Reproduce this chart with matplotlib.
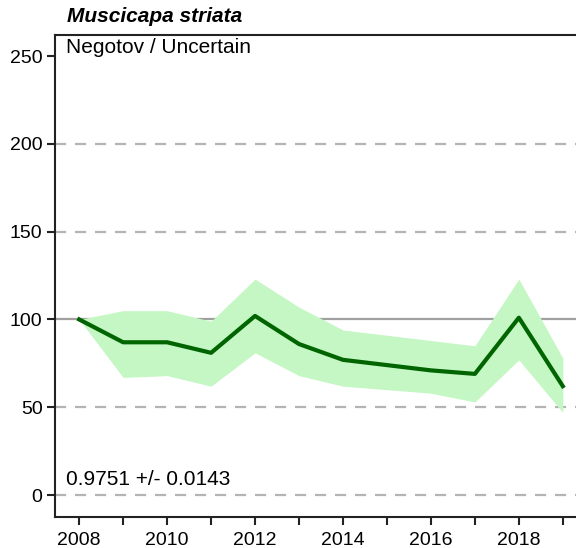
import matplotlib
matplotlib.use("Agg")
from matplotlib import pyplot as plt
import numpy as np

plt.rcParams['font.family'] = ['Liberation Sans', 'DejaVu Sans']

years = [2008, 2009, 2010, 2011, 2012, 2013, 2014, 2015, 2016, 2017, 2018, 2019]
index = [100, 87, 87, 81, 102, 86, 77, 74, 71, 69, 101, 62]
upper = [100, 105, 105, 99, 123, 107, 94, 91, 88, 85, 123, 78]
lower = [100, 67, 68, 62, 81, 68, 62, 60, 58, 53, 77, 47]
grid_y = [0, 50, 150, 200]
yticks = [0, 50, 100, 150, 200, 250]
xlabels = [2008, 2010, 2012, 2014, 2016, 2018]
species = "Muscicapa striata"
subtitle = "Negotov / Uncertain"
trend = "0.9751 +/- 0.0143"

fig = plt.figure(figsize=(5.76, 5.48), dpi=100)
ax = fig.add_axes([0.0955, 0.0566, 0.9045, 0.8795])

for g in grid_y:
    ax.axhline(g, color="#b4b4b4", lw=1.6, ls=(0, (5, 4)), zorder=1)
ax.axhline(100, color="#a0a0a0", lw=1.6, zorder=2)

ax.fill_between(years, lower, upper, color="#c4f7c4", lw=0, zorder=3)
ax.plot(years, index, color="#006400", lw=3, zorder=4)

ax.set_xlim(2007.45, 2019.3)
ax.set_ylim(-12.5, 262)
ax.set_yticks(yticks)
ax.set_xticks(years, minor=True)
ax.set_xticks(xlabels)
ax.tick_params(axis="both", which="both", direction="out", length=6, width=1.5,
               labelsize=14, color="#222222")
ax.tick_params(axis="y", pad=3)
ax.tick_params(axis="x", pad=5)

for side in ["right"]:
    ax.spines[side].set_visible(False)
for side in ["left", "bottom", "top"]:
    ax.spines[side].set_linewidth(1.5)
    ax.spines[side].set_color("#222222")

ax.text(0.022, 0.993, subtitle, transform=ax.transAxes, ha="left", va="top", fontsize=15)
ax.text(0.022, 0.058, trend, transform=ax.transAxes, ha="left", va="bottom", fontsize=15)
fig.text(0.116, 0.952, species, ha="left", va="bottom", fontsize=15,
         fontweight="bold", fontstyle="italic")

fig.savefig("out.png", dpi=100)
